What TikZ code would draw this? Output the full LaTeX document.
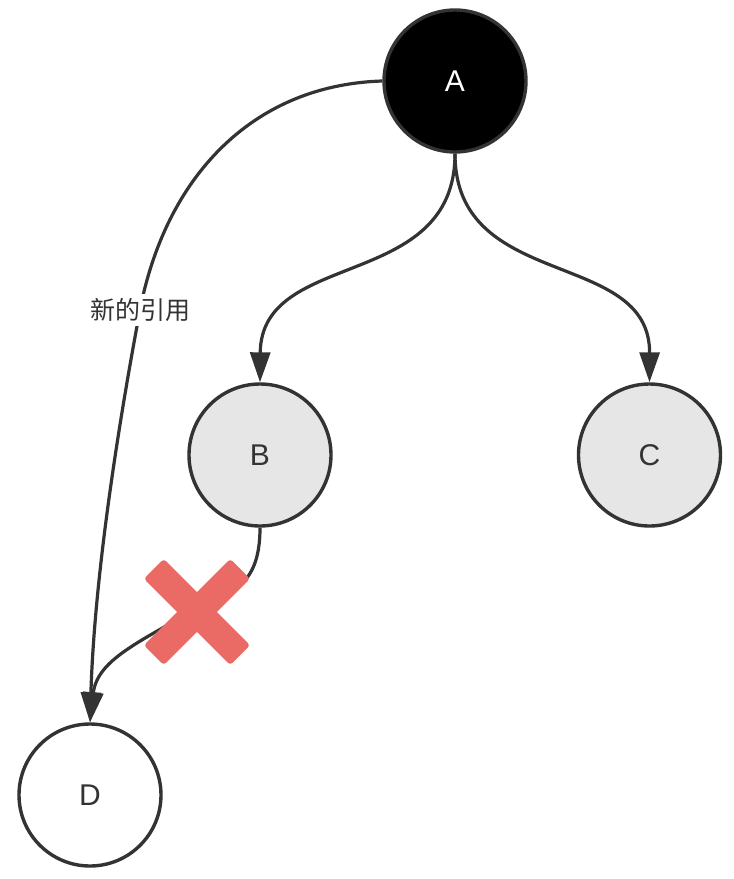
\documentclass[tikz,border=0pt]{standalone}
\usepackage{fontspec}
\newfontfamily\latfont{Liberation Sans}
\newfontfamily\cjkfont{Noto Sans CJK SC}
\usetikzlibrary{arrows.meta}
\definecolor{inkgrey}{HTML}{333333}
\definecolor{nodegrey}{HTML}{E6E6E6}
\definecolor{crossred}{HTML}{EA6B66}
\tikzset{
  ball/.style={circle, draw=inkgrey, line width=3.4pt, minimum size=142pt, inner sep=0pt,
    font=\latfont\fontsize{30}{35}\selectfont, text=inkgrey},
  edge/.style={draw=inkgrey, line width=3.2pt, -{Triangle[length=30pt,width=20pt]}},
  lbl/.style={fill=white, inner sep=4pt, text=inkgrey, font=\cjkfont\fontsize{25}{29}\selectfont},
  xbar/.style={fill=crossred, draw=none, rounded corners=3pt, minimum width=122pt,
    minimum height=28pt, inner sep=0pt}
}
\begin{document}
\begin{tikzpicture}[x=1pt, y=-1pt]
\useasboundingbox (0,0) rectangle (734,879);

% nodes
\node[ball, fill=black, text=white] (A) at (455,81) {A};
\node[ball, fill=nodegrey] (B) at (260,455) {B};
\node[ball, fill=nodegrey] (C) at (649.5,455) {C};
\node[ball, fill=white] (D) at (90,795) {D};

% references from A
\draw[edge] (A.south) .. controls (455,292) and (261,248) .. (B.north);
\draw[edge] (A.south) .. controls (455,292) and (650,248) .. (C.north);
\draw[edge] (A.west) .. controls (250,85) and (165,180) .. (140,310)
  node[lbl] (L) {新的引用}
  .. controls (125,390) and (95,560) .. (D.north);

% old reference B -> D, crossed out
\draw[edge] (B.south) .. controls (260,595) and (222,592) .. (190,612)
  .. controls (140,642) and (97,660) .. (D.north);
\node[xbar, rotate=45] (X1) at (197,612) {};
\node[xbar, rotate=-45] (X2) at (197,612) {};
\end{tikzpicture}
\end{document}
